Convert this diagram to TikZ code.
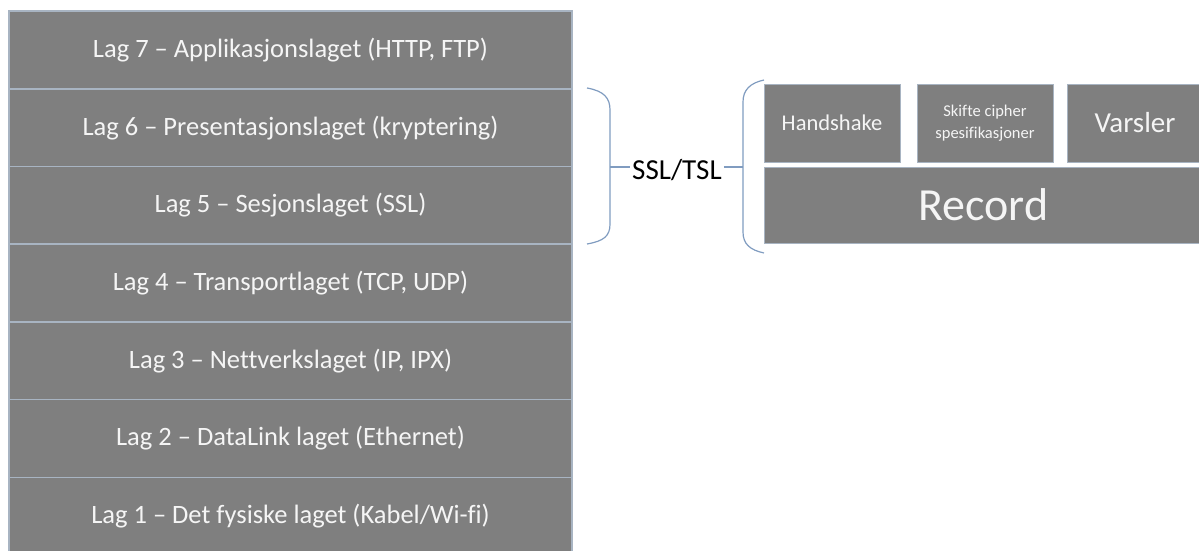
\documentclass[tikz,border=0pt]{standalone}
\usepackage{fontspec}
\setmainfont{Carlito}[Ligatures={TeX,NoCommon}]
\usepackage{xcolor}
\usetikzlibrary{positioning, calc}
\definecolor{layergray}{RGB}{127,127,127}
\definecolor{sepline}{RGB}{168,180,194}
\definecolor{bracecol}{RGB}{128,156,192}
\definecolor{labelwhite}{RGB}{245,245,245}

\begin{document}
\begin{tikzpicture}[x=1pt, y=-1pt,
    lag/.style={draw=sepline, line width=1.5pt, fill=layergray,
                minimum width=563pt, minimum height=77.7pt, inner sep=0pt,
                font=\fontsize{26.5}{30}\selectfont, text=labelwhite},
    sub/.style={draw=sepline, line width=0.8pt, fill=layergray,
                minimum width=136pt, minimum height=78pt, inner sep=0pt,
                align=center, text=labelwhite},
    brace/.style={draw=bracecol, line width=1.2pt}
  ]
    \useasboundingbox (0,0) rectangle (1199,551);

    % OSI-lag
    \node[lag] (lag7) at (290.5, 49.9) {Lag 7 -- Applikasjonslaget (HTTP, FTP)};
    \node[lag] (lag6) at (290.5,127.6) {Lag 6 -- Presentasjonslaget (kryptering)};
    \node[lag] (lag5) at (290.5,205.3) {Lag 5 -- Sesjonslaget (SSL)};
    \node[lag] (lag4) at (290.5,283.0) {Lag 4 -- Transportlaget (TCP, UDP)};
    \node[lag] (lag3) at (290.5,360.7) {Lag 3 -- Nettverkslaget (IP, IPX)};
    \node[lag] (lag2) at (290.5,438.4) {Lag 2 -- DataLink laget (Ethernet)};
    \node[lag] (lag1) at (290.5,516.1) {Lag 1 -- Det fysiske laget (Kabel/Wi-fi)};

    % SSL/TSL
    \node[font=\fontsize{29}{32}\selectfont, inner sep=2pt] (ssl) at (677,170.5) {SSL/TSL};
    \coordinate (tipL) at (610,167);
    \coordinate (tipR) at (743,167);
    \draw[brace] (587,88) .. controls (604,91) and (610,98) .. (610,110)
      -- (610,224) .. controls (610,236) and (604,241) .. (587,244);
    \draw[brace] (tipL) -- (tipL -| ssl.west);
    \draw[brace] (tipR -| ssl.east) -- (tipR);
    \draw[brace] (764,80) .. controls (750,83) and (743,90) .. (743,102)
      -- (743,232) .. controls (743,244) and (750,250) .. (764,253);

    % protokoller
    \node[sub, font=\fontsize{22.5}{26}\selectfont] (hand) at (832,123) {Handshake};
    \node[sub, font=\fontsize{16.5}{21.5}\selectfont] (cipher) at (985,123) {Skifte cipher\\spesifikasjoner};
    \node[sub, font=\fontsize{29}{32}\selectfont] (varsler) at (1135,123) {Varsler};
    \node[sub, minimum width=439pt, minimum height=76pt,
          font=\fontsize{46}{50}\selectfont] (record) at (983.5,205) {Record};
\end{tikzpicture}
\end{document}
